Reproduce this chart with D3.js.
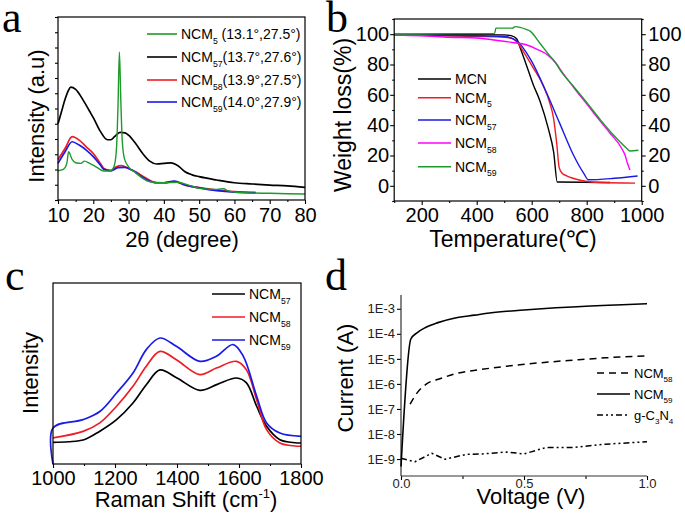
<!DOCTYPE html>
<html>
<head>
<meta charset="utf-8">
<script src="https://cdn.jsdelivr.net/npm/d3@7"></script>
<style>
  body { margin: 0; background: #fff; }
</style>
</head>
<body>
<div id="fig"></div>
<script>
// ---------- panel a : XRD ----------
const xrdTicks = [10, 20, 30, 40, 50, 60, 70, 80];
const xrdMinor = [15, 25, 35, 45, 55, 65, 75];
const xrdTheta5 = [10, 11.5, 12.5, 13, 14, 15, 16.5, 17.5, 19, 21, 23, 25, 26, 26.6, 27, 27.4, 27.8, 28.2, 28.8, 30, 32, 34, 36, 40, 44, 47, 50, 55, 57, 58, 60, 65, 70, 75, 80];
const xrdNcm5 = [19.2, 20.1, 24, 31.6, 26.6, 24.4, 24, 25.5, 24, 21.4, 19, 19.2, 22.9, 34.9, 61.1, 97.1, 65.5, 39.3, 27.3, 21.8, 17.9, 14.2, 12, 11.3, 11.6, 9.8, 7.6, 7, 7.4, 6.1, 5.2, 4.6, 4.4, 4.1, 3.9];
const xrdTheta57 = [10, 11, 12, 13, 13.6, 15, 17, 19, 20, 22, 24, 25, 26, 27.6, 29, 30, 32, 34, 36, 38, 40, 42, 44, 46, 48, 50, 55, 60, 65, 70, 75, 80];
const xrdNcm57 = [50, 58, 66, 72, 74, 72.5, 66, 58, 54, 45, 39.5, 39.5, 41.5, 44.3, 44, 42.5, 37, 30.5, 25.5, 23.6, 24, 24.4, 22.5, 18.5, 16.5, 15.3, 13.1, 11.3, 10.5, 9.8, 9.2, 8.3];
const xrdTheta58 = [10, 12, 14, 16, 18, 20, 22, 23, 25, 26.5, 28, 30, 32, 35, 38, 40, 43, 46, 50, 55, 60, 66];
const xrdNcm58 = [26.6, 33.8, 41.5, 39.3, 34.9, 30.5, 24, 20.7, 19.2, 21.8, 22.5, 20.7, 18.5, 14.2, 11.3, 11.3, 12, 9.8, 8.1, 6.5, 5.5, 4.8];
const xrdTheta59 = [10, 12, 14, 16, 18, 20, 22, 23, 25, 27, 29, 31, 33, 35, 38, 40, 43, 46, 50, 55, 60, 66];
const xrdNcm59 = [24, 31.6, 38.2, 36, 32.7, 28.4, 22.9, 20.1, 19.2, 21.2, 21.4, 19.6, 16.4, 13.5, 11.3, 11.3, 12.4, 9.8, 7.9, 6.1, 5.2, 4.8];
const xrdLabels = [["NCM", "5", " (13.1°,27.5°)"], ["NCM", "57", "(13.7°,27.6°)"], ["NCM", "58", "(13.9°,27.5°)"], ["NCM", "59", "(14.0°,27.9°)"]];

// ---------- panel b : TGA ----------
const tgaTicks = [200, 400, 600, 800, 1000];
const tgaMinor = [100, 300, 500, 700, 900];
const tgaYTicks = [0, 20, 40, 60, 80, 100];
const tgaYMinor = [-10, 10, 30, 50, 70, 90, 110];
const tgaTempMcn = [100, 300, 500, 525, 545, 560, 580, 605, 630, 660, 680, 693, 885];
const tgaMcn = [100, 99.7, 99.5, 99, 97, 90, 80, 67, 56, 38, 22, 2.5, 2.2];
const tgaTemp5 = [100, 400, 500, 530, 550, 575, 605, 642, 665, 679, 691, 700, 710, 727, 750, 776, 848, 976];
const tgaNcm5 = [99.5, 98.5, 98, 97, 94, 87, 78, 66, 55, 45, 28, 12, 8.5, 6.6, 5, 3.7, 2.2, 1.8];
const tgaTemp57 = [100, 400, 500, 550, 580, 600, 650, 700, 750, 790, 806, 900, 985];
const tgaNcm57 = [99.5, 99, 98.5, 95, 88, 82, 63, 42, 21, 8, 4, 5, 6.5];
const tgaTemp58 = [100, 200, 300, 400, 470, 530, 580, 620, 660, 690, 703, 750, 800, 850, 885, 927, 940, 948, 957];
const tgaNcm58 = [99.5, 99, 98, 97.5, 96, 94.5, 93, 90, 86, 80.5, 77, 65.5, 54, 42.5, 34.7, 24.8, 20, 15, 10.5];
const tgaTemp59 = [100, 270, 465, 470, 530, 540, 558, 582, 594, 630, 660, 691, 703, 750, 800, 850, 900, 945, 957, 988];
const tgaNcm59 = [100, 100.3, 100.5, 104, 104, 105, 104.5, 103, 102, 94, 87, 80, 76.5, 66, 55, 43.5, 33, 24.8, 23, 23.5];
const tgaLabels = [["MCN"], ["NCM", "5"], ["NCM", "57"], ["NCM", "58"], ["NCM", "59"]];

// ---------- panel c : Raman ----------
const ramanTicks = [1000, 1200, 1400, 1600, 1800];
const ramanMinor = [1100, 1300, 1500, 1700];
const ramanShift57 = [1000, 1050, 1100, 1150, 1205, 1258, 1301, 1345, 1400, 1474, 1530, 1592, 1624, 1657, 1689, 1732, 1800];
const raman57 = [12, 12.3, 13.4, 18, 24.5, 33.7, 43.8, 52, 47.5, 40.7, 44, 47.5, 44.8, 31.9, 20.8, 13.4, 11.6];
const ramanShift58 = [1000, 1097, 1151, 1205, 1258, 1301, 1345, 1398, 1474, 1527, 1592, 1624, 1657, 1689, 1732, 1800];
const raman58 = [14.4, 18, 22.7, 31.9, 42.9, 54, 62.2, 57.6, 49.4, 53, 56.7, 52, 35.5, 19, 11.6, 9.8];
const ramanShift59 = [1000, 1000, 1097, 1151, 1205, 1258, 1301, 1345, 1398, 1474, 1527, 1581, 1614, 1657, 1689, 1732, 1800];
const raman59 = [0, 19.9, 24.5, 29, 39.2, 50.3, 63.2, 69.6, 65, 56.7, 59.5, 66, 59.5, 37.4, 22.7, 17.1, 15.3];
const ramanLabels = [["NCM", "57"], ["NCM", "58"], ["NCM", "59"]];

// ---------- panel d : I-V ----------
const ivTicks = [0, 0.5, 1];
const ivMinor = [0.25, 0.75];
const ivYTicks = [1e-9, 1e-8, 1e-7, 1e-6, 1e-5, 1e-4, 1e-3];
const ivVolt59 = [0, 0.04, 0.065, 0.1, 0.15, 0.22, 0.3, 0.36, 0.5, 0.63, 0.77, 0.9, 1.0];
const ivNcm59 = [5.0e-10, 6.2e-5, 1.1e-4, 1.8e-4, 2.8e-4, 4.3e-4, 5.6e-4, 6.8e-4, 8.9e-4, 1.1e-3, 1.3e-3, 1.45e-3, 1.6e-3];
const ivVolt58 = [0.037, 0.064, 0.104, 0.158, 0.226, 0.32, 0.43, 0.56, 0.7, 0.83, 1.0];
const ivNcm58 = [1.55e-7, 4.2e-7, 1.0e-6, 1.6e-6, 2.6e-6, 3.7e-6, 5.1e-6, 6.9e-6, 8.9e-6, 1.1e-5, 1.3e-5];
const ivVoltCN = [0, 0.057, 0.125, 0.179, 0.267, 0.33, 0.43, 0.5, 0.59, 0.7, 0.83, 1.0];
const ivCN = [1.07e-9, 7.8e-10, 1.7e-9, 9.8e-10, 1.55e-9, 1.6e-9, 1.9e-9, 1.6e-9, 2.9e-9, 2.9e-9, 3.9e-9, 4.9e-9];
const ivLabels = [["NCM", "58"], ["NCM", "59"], ["g-C", "3", "N", "4"]];

const FONT = "'Liberation Sans', Arial, sans-serif";
const SERIF = "'Liberation Serif', 'DejaVu Serif', serif";
const GREEN = "#1e9a2a", RED = "#ee1c24", BLUE = "#1a1ae6", MAGENTA = "#ff00ff";

const svg = d3
  .select("#fig")
  .append("svg")
  .attr("width", 685)
  .attr("height", 517)
  .attr("font-family", FONT);

// draw one series from an x array and a y array
function drawSeries(g, xs, ys, x, y, color, width, curve, dash) {
  const line = d3
    .line()
    .x((d) => x(d[0]))
    .y((d) => y(d[1]))
    .curve(curve || d3.curveLinear);
  g.append("path")
    .datum(d3.zip(xs, ys))
    .attr("d", line)
    .attr("fill", "none")
    .attr("stroke", color)
    .attr("stroke-width", width)
    .attr("stroke-linejoin", "round")
    .attr("stroke-dasharray", dash || null);
}

// text where odd parts are subscripts
function subText(g, x, y, parts, size) {
  const t = g.append("text").attr("x", x).attr("y", y).attr("font-size", size).attr("fill", "#000");
  parts.forEach((p, i) => {
    const sub = i % 2 === 1;
    t.append("tspan")
      .attr("font-size", sub ? size * 0.62 : size)
      .attr("dy", i === 0 ? 0 : sub ? size * 0.32 : -size * 0.32)
      .text(p);
  });
  return t;
}

function styleAxis(g, size) {
  g.attr("font-family", FONT).attr("font-size", size);
  g.selectAll("text").attr("fill", "#000");
  g.selectAll("line").attr("stroke", "#000").attr("stroke-width", 1.1);
  g.select(".domain").remove();
}

function box(g, x, y) {
  g.append("rect")
    .attr("x", x.range()[0])
    .attr("y", y.range()[1])
    .attr("width", x.range()[1] - x.range()[0])
    .attr("height", y.range()[0] - y.range()[1])
    .attr("fill", "none")
    .attr("stroke", "#000")
    .attr("stroke-width", 1.2);
}

function legendRow(g, x1, x2, y, color, parts, size, dash) {
  g.append("line")
    .attr("x1", x1).attr("x2", x2).attr("y1", y).attr("y2", y)
    .attr("stroke", color).attr("stroke-width", 1.6)
    .attr("stroke-dasharray", dash || null);
  subText(g, x2 + 4, y + size * 0.36, parts, size);
}

function panelLetter(x, y, s) {
  svg.append("text").attr("x", x).attr("y", y)
    .attr("font-family", SERIF).attr("font-size", 44).text(s);
}

const intFmt = d3.format("d");

// ===== panel a =====
const ax = d3.scaleLinear().domain([10, 80]).range([58, 305]);
const ay = d3.scaleLinear().domain([0, 120]).range([200, 17]);
const ga = svg.append("g");
ga.append("g").attr("transform", "translate(0,200)")
  .call(d3.axisBottom(ax).tickValues(xrdTicks).tickSize(4).tickPadding(4).tickFormat(intFmt))
  .call(styleAxis, 20);
ga.append("g").attr("transform", "translate(0,200)")
  .call(d3.axisBottom(ax).tickValues(xrdMinor).tickSize(2).tickFormat(""))
  .call(styleAxis, 20);
ga.append("g").attr("transform", "translate(58,0)")
  .call(d3.axisLeft(ay).ticks(12).tickSize(3).tickFormat(""))
  .call(styleAxis, 20);
drawSeries(ga, xrdTheta57, xrdNcm57, ax, ay, "#000", 1.7, d3.curveMonotoneX);
drawSeries(ga, xrdTheta58, xrdNcm58, ax, ay, RED, 1.7, d3.curveMonotoneX);
drawSeries(ga, xrdTheta59, xrdNcm59, ax, ay, BLUE, 1.7, d3.curveMonotoneX);
drawSeries(ga, xrdTheta5, xrdNcm5, ax, ay, GREEN, 1.4, d3.curveMonotoneX);
box(ga, ax, ay);
[GREEN, "#000", RED, BLUE].forEach((c, i) =>
  legendRow(ga, 147, 177, [34, 57, 80, 102][i], c, xrdLabels[i], 14));
ga.append("text").attr("transform", "translate(44,116) rotate(-90)")
  .attr("text-anchor", "middle").attr("font-size", 22).text("Intensity (a.u)");
ga.append("text").attr("x", 182).attr("y", 247)
  .attr("text-anchor", "middle").attr("font-size", 22).text("2θ (degree)");
panelLetter(2, 32, "a");

// ===== panel b =====
const bx = d3.scaleLinear().domain([100, 1000]).range([394.2, 641.7]);
const by = d3.scaleLinear().domain([-10, 110]).range([201, 19]);
const gb = svg.append("g");
gb.append("g").attr("transform", "translate(0,201)")
  .call(d3.axisBottom(bx).tickValues(tgaTicks).tickSize(4).tickPadding(3).tickFormat(intFmt))
  .call(styleAxis, 20);
gb.append("g").attr("transform", "translate(0,201)")
  .call(d3.axisBottom(bx).tickValues(tgaMinor).tickSize(2).tickFormat(""))
  .call(styleAxis, 20);
gb.append("g").attr("transform", "translate(394.2,0)")
  .call(d3.axisLeft(by).tickValues(tgaYTicks).tickSize(4).tickPadding(1))
  .call(styleAxis, 20);
gb.append("g").attr("transform", "translate(394.2,0)")
  .call(d3.axisLeft(by).tickValues(tgaYMinor).tickSize(2).tickFormat(""))
  .call(styleAxis, 20);
gb.append("g").attr("transform", "translate(641.7,0)")
  .call(d3.axisRight(by).tickValues(tgaYTicks).tickSize(4).tickPadding(2.5))
  .call(styleAxis, 20);
gb.append("g").attr("transform", "translate(641.7,0)")
  .call(d3.axisRight(by).tickValues(tgaYMinor).tickSize(2).tickFormat(""))
  .call(styleAxis, 20);
const tgaColors = ["#000", RED, BLUE, MAGENTA, GREEN];
drawSeries(gb, tgaTempMcn, tgaMcn, bx, by, tgaColors[0], 1.4, d3.curveMonotoneX);
drawSeries(gb, tgaTemp5, tgaNcm5, bx, by, tgaColors[1], 1.4, d3.curveMonotoneX);
drawSeries(gb, tgaTemp57, tgaNcm57, bx, by, tgaColors[2], 1.4, d3.curveMonotoneX);
drawSeries(gb, tgaTemp58, tgaNcm58, bx, by, tgaColors[3], 1.4, d3.curveMonotoneX);
drawSeries(gb, tgaTemp59, tgaNcm59, bx, by, tgaColors[4], 1.4, d3.curveMonotoneX);
box(gb, bx, by);
tgaColors.forEach((c, i) =>
  legendRow(gb, 418, 451, [79, 97.7, 120, 143, 166.7][i], c, tgaLabels[i], 14));
gb.append("text").attr("transform", "translate(351,115) rotate(-90)")
  .attr("text-anchor", "middle").attr("font-size", 23).text("Weight loss(%)");
gb.append("text").attr("x", 513).attr("y", 247)
  .attr("text-anchor", "middle").attr("font-size", 23).text("Temperature(℃)");
panelLetter(326, 32, "b");

// ===== panel c =====
const cx = d3.scaleLinear().domain([1000, 1800]).range([53, 301]);
const cy = d3.scaleLinear().domain([0, 100]).range([464, 283]);
const gc = svg.append("g");
gc.append("g").attr("transform", "translate(0,464)")
  .call(d3.axisBottom(cx).tickValues(ramanTicks).tickSize(4).tickPadding(3).tickFormat(intFmt))
  .call(styleAxis, 20);
gc.append("g").attr("transform", "translate(0,464)")
  .call(d3.axisBottom(cx).tickValues(ramanMinor).tickSize(2).tickFormat(""))
  .call(styleAxis, 20);
const ramanCurve = d3.curveCatmullRom.alpha(0.5);
drawSeries(gc, ramanShift57, raman57, cx, cy, "#000", 1.7, ramanCurve);
drawSeries(gc, ramanShift58, raman58, cx, cy, RED, 1.7, ramanCurve);
drawSeries(gc, ramanShift59, raman59, cx, cy, BLUE, 1.7, ramanCurve);
box(gc, cx, cy);
["#000", RED, BLUE].forEach((c, i) =>
  legendRow(gc, 212, 245, [294, 317, 340][i], c, ramanLabels[i], 14));
gc.append("text").attr("transform", "translate(38,373) rotate(-90)")
  .attr("text-anchor", "middle").attr("font-size", 22).text("Intensity");
const ramanTitle = gc.append("text").attr("x", 186).attr("y", 507)
  .attr("text-anchor", "middle").attr("font-size", 22);
ramanTitle.append("tspan").text("Raman Shift (cm");
ramanTitle.append("tspan").attr("font-size", 13).attr("dy", -9).text("-1");
ramanTitle.append("tspan").attr("dy", 9).text(")");
panelLetter(5, 290, "c");

// ===== panel d =====
const dx = d3.scaleLinear().domain([0, 1]).range([401, 647]);
const dy = d3.scaleLog().domain([2.1e-10, 3.55e-3]).range([476, 295]);
const gd = svg.append("g");
gd.append("g").attr("transform", "translate(0,476)")
  .call(d3.axisBottom(dx).tickValues(ivTicks).tickSize(4).tickPadding(-1).tickFormat(d3.format(".1f")))
  .call(styleAxis, 13);
gd.append("g").attr("transform", "translate(0,476)")
  .call(d3.axisBottom(dx).tickValues(ivMinor).tickSize(3).tickFormat(""))
  .call(styleAxis, 13);
gd.append("g").attr("transform", "translate(401,0)")
  .call(d3.axisLeft(dy).tickValues(ivYTicks).tickSize(4).tickPadding(2)
    .tickFormat((d) => "1E" + Math.round(Math.log10(d))))
  .call(styleAxis, 13);
gd.selectAll("text").attr("fill", "#222");
// axis lines (left and bottom only)
gd.append("line").attr("x1", 401).attr("x2", 401).attr("y1", 295).attr("y2", 476)
  .attr("stroke", "#333").attr("stroke-width", 1.2);
gd.append("line").attr("x1", 401).attr("x2", 647).attr("y1", 476).attr("y2", 476)
  .attr("stroke", "#333").attr("stroke-width", 1.2);
drawSeries(gd, ivVolt58, ivNcm58, dx, dy, "#000", 1.5, d3.curveMonotoneX, "7,5");
drawSeries(gd, ivVolt59, ivNcm59, dx, dy, "#000", 1.6, d3.curveMonotoneX);
drawSeries(gd, ivVoltCN, ivCN, dx, dy, "#000", 1.5, d3.curveLinear, "6,3,2,3,2,3");
[["7,5"], [null], ["6,3,2,3,2,3"]].forEach((d, i) =>
  legendRow(gd, 597, 630, [373, 394, 415][i], "#000", ivLabels[i], 13, d[0]));
gd.append("text").attr("transform", "translate(353,378) rotate(-90)")
  .attr("text-anchor", "middle").attr("font-size", 22).text("Current (A)");
gd.append("text").attr("x", 531).attr("y", 504)
  .attr("text-anchor", "middle").attr("font-size", 22).text("Voltage (V)");
panelLetter(325, 290, "d");
</script>
</body>
</html>
